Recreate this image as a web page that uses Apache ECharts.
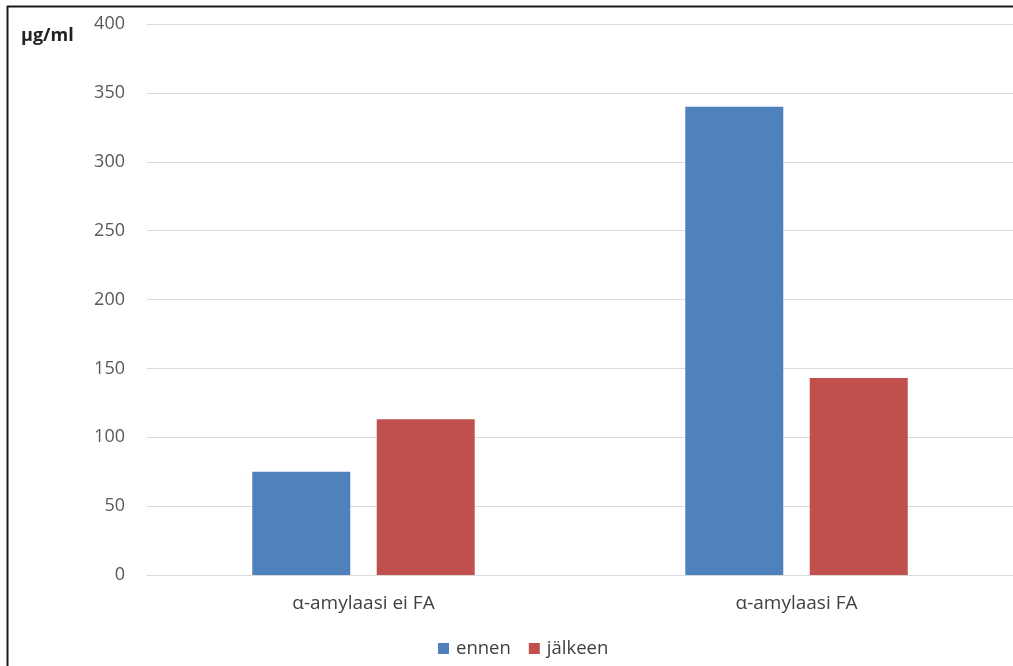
<!DOCTYPE html>
<html>
<head>
<meta charset="utf-8">
<script src="https://cdn.jsdelivr.net/npm/echarts@6/dist/echarts.min.js"></script>
<style>
  html, body { margin: 0; padding: 0; background: #fff; }
  #chart { width: 1013px; height: 666px; }
</style>
</head>
<body>
<div id="chart"></div>
<script>
// Categories, series values and axis ticks
const categories = ['α-amylaasi ei FA', 'α-amylaasi FA'];
const ennen = [75, 340];
const jalkeen = [113, 143];
const yTicks = [0, 50, 100, 150, 200, 250, 300, 350, 400];
const unitLabel = 'µg/ml';

const font = '"Open Sans", Lato, sans-serif';

const chart = echarts.init(document.getElementById('chart'));
chart.setOption({
  animation: false,
  backgroundColor: '#ffffff',
  grid: { left: 147, right: 0, top: 24, bottom: 91 },
  graphic: [
    // frame lines on top and left
    { type: 'line', shape: { x1: 7, y1: 6.5, x2: 1013, y2: 6.5 }, style: { stroke: '#1a1a1a', lineWidth: 2 } },
    { type: 'line', shape: { x1: 7.5, y1: 6, x2: 7.5, y2: 666 }, style: { stroke: '#1a1a1a', lineWidth: 2 } },
    { type: 'text', left: 21, top: 27, style: { text: unitLabel, font: 'bold 18px ' + font, fill: '#222' } }
  ],
  legend: {
    bottom: 3,
    left: 433,
    itemWidth: 11,
    itemHeight: 11,
    itemGap: 18,
    icon: 'rect',
    textStyle: { fontFamily: font, fontSize: 18.5, color: '#404040', padding: [0, 0, 0, 2] },
    data: ['ennen', 'jälkeen']
  },
  xAxis: {
    type: 'category',
    data: categories,
    axisLine: { lineStyle: { color: '#d9d9d9' } },
    axisTick: { show: false },
    axisLabel: { fontFamily: font, fontSize: 19, color: '#404040', margin: 19 }
  },
  yAxis: {
    type: 'value',
    min: yTicks[0],
    max: yTicks[yTicks.length - 1],
    interval: yTicks[1] - yTicks[0],
    axisLine: { show: false },
    axisTick: { show: false },
    axisLabel: { fontFamily: font, fontSize: 18, color: '#595959', margin: 22 },
    splitLine: { lineStyle: { color: '#d9d9d9' } }
  },
  series: [
    { name: 'ennen', type: 'bar', data: ennen, barWidth: 98, barGap: '27%', itemStyle: { color: '#4f81bd' } },
    { name: 'jälkeen', type: 'bar', data: jalkeen, barWidth: 98, itemStyle: { color: '#c0504d' } }
  ]
});
</script>
</body>
</html>
